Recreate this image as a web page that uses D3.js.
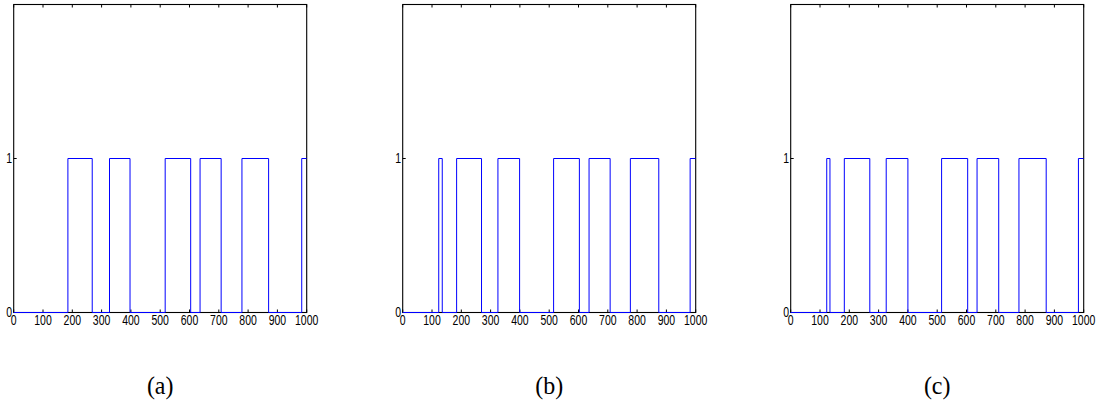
<!DOCTYPE html>
<html>
<head>
<meta charset="utf-8">
<script src="https://cdn.jsdelivr.net/npm/d3@7"></script>
<style>
  html, body { margin: 0; padding: 0; background: #fff; }
  svg { display: block; }
</style>
</head>
<body>
<svg id="chart" width="1102" height="404"></svg>
<script>
// Binary on/off signal over 0..1000 samples, one panel per case.
const xTicks = [0, 100, 200, 300, 400, 500, 600, 700, 800, 900, 1000];
const yTicks = [0, 1];
const panelLabels = ["(a)", "(b)", "(c)"];

// Intervals [start, end] during which the signal is 1.
const pulsesA = [[185, 268], [327, 397], [517, 604], [636, 708], [779, 870], [983, 1000]];
const pulsesB = [[123, 135], [184, 269], [325, 399], [515, 603], [636, 708], [777, 874], [981, 1000]];
const pulsesC = [[123, 134], [183, 270], [326, 400], [515, 604], [636, 710], [779, 872], [982, 1000]];

const panels = [
  { label: panelLabels[0], pulses: pulsesA, left: 13.7 },
  { label: panelLabels[1], pulses: pulsesB, left: 402.7 },
  { label: panelLabels[2], pulses: pulsesC, left: 790.7 }
];

const plotW = 293, plotTop = 4.5, plotBottom = 312.5;
const svg = d3.select("#chart");
const tickLen = 3;

// Turn pulse intervals into step-function vertices.
function toSteps(pulses) {
  const pts = [[0, 0]];
  pulses.forEach(([a, b]) => {
    pts.push([a, 0], [a, 1]);
    pts.push([b, 1]);
    if (b < 1000) pts.push([b, 0]);
  });
  const last = pts[pts.length - 1];
  if (last[0] < 1000) pts.push([1000, last[1]]);
  return pts;
}

panels.forEach(p => {
  const x = d3.scaleLinear().domain([0, 1000]).range([p.left, p.left + plotW]);
  const y = d3.scaleLinear().domain([0, 2]).range([plotBottom, plotTop]);
  const g = svg.append("g");

  // Frame
  g.append("rect")
    .attr("x", x(0)).attr("y", y(2))
    .attr("width", x(1000) - x(0)).attr("height", y(0) - y(2))
    .attr("fill", "none").attr("stroke", "#000").attr("stroke-width", 1.1);

  // Inward ticks on all four sides
  xTicks.forEach(t => {
    g.append("line").attr("x1", x(t)).attr("x2", x(t))
      .attr("y1", y(0)).attr("y2", y(0) - tickLen).attr("stroke", "#000");
    g.append("line").attr("x1", x(t)).attr("x2", x(t))
      .attr("y1", y(2)).attr("y2", y(2) + tickLen).attr("stroke", "#000");
  });
  yTicks.forEach(t => {
    g.append("line").attr("x1", x(0)).attr("x2", x(0) + tickLen)
      .attr("y1", y(t)).attr("y2", y(t)).attr("stroke", "#000");
    g.append("line").attr("x1", x(1000)).attr("x2", x(1000) - tickLen)
      .attr("y1", y(t)).attr("y2", y(t)).attr("stroke", "#000");
  });

  // Tick labels (narrow Helvetica-like digits)
  xTicks.forEach(t => {
    g.append("text")
      .attr("transform", `translate(${x(t)},${y(0) + 12}) scale(0.7,1)`)
      .attr("text-anchor", "middle")
      .attr("font-family", "Liberation Sans, Arial, sans-serif")
      .attr("font-size", 15)
      .text(t);
  });
  yTicks.forEach(t => {
    g.append("text")
      .attr("transform", `translate(${x(0) - 1.5},${y(t) + 4}) scale(0.7,1)`)
      .attr("text-anchor", "end")
      .attr("font-family", "Liberation Sans, Arial, sans-serif")
      .attr("font-size", 15)
      .text(t);
  });

  // Signal
  const line = d3.line().x(d => x(d[0])).y(d => y(d[1]));
  g.append("path")
    .datum(toSteps(p.pulses))
    .attr("d", line)
    .attr("fill", "none")
    .attr("stroke", "#0000ff")
    .attr("stroke-width", 1);

  // Caption
  g.append("text")
    .attr("transform", `translate(${(x(0) + x(1000)) / 2},394) scale(1,1.08)`)
    .attr("text-anchor", "middle")
    .attr("font-family", "Liberation Serif, DejaVu Serif, serif")
    .attr("font-size", 24)
    .text(p.label);
});
</script>
</body>
</html>
